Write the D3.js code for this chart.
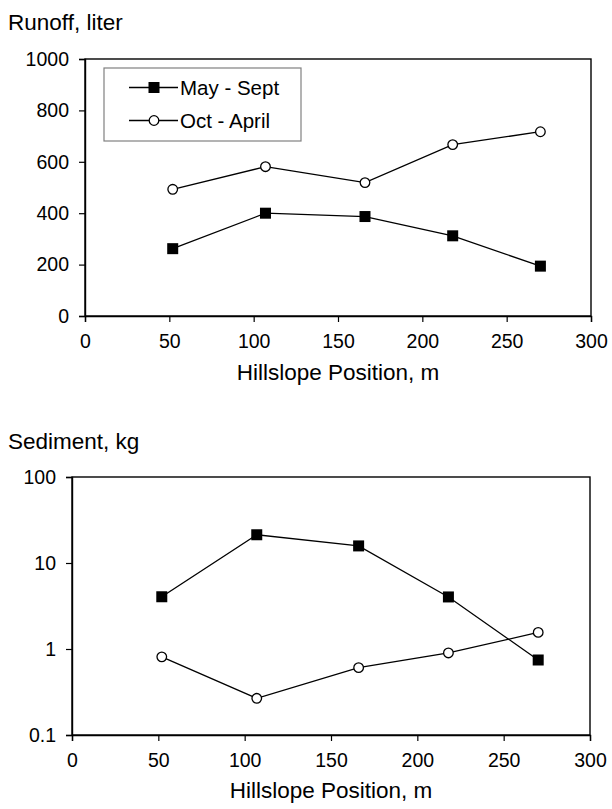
<!DOCTYPE html>
<html>
<head>
<meta charset="utf-8">
<script src="https://cdn.jsdelivr.net/npm/d3@7"></script>
<style>
  html, body { margin: 0; padding: 0; background: #fff; }
  svg { display: block; font-family: "Liberation Sans", Arial, sans-serif; }
</style>
</head>
<body>
<svg id="chart" width="612" height="809"></svg>
<script>
// ---- Data ----
const position = [52, 107, 166, 218, 270];
const runoffMaySept = [262, 400, 387, 312, 194];
const runoffOctApril = [493, 581, 519, 667, 717];
const sedimentMaySept = [4.05, 21.3, 15.8, 4.03, 0.745];
const sedimentOctApril = [0.81, 0.267, 0.607, 0.90, 1.56];
const seriesNames = ["May - Sept", "Oct - April"];
const xTicks = [0, 50, 100, 150, 200, 250, 300];
const runoffTicks = [0, 200, 400, 600, 800, 1000];
const sedimentTicks = [0.1, 1, 10, 100];
const sedimentTickLabels = ["0.1", "1", "10", "100"];

const svg = d3.select("#chart");
const tickFont = 19.5, titleFont = 22.5, legendFont = 20.5;

function panel(opts) {
  const { left, right, top, bottom, yScaleType, yDomain, yTicks, yTickFmt, s1, s2, title, titleY, xLabelY, legend } = opts;
  const x = d3.scaleLinear().domain([0, 300]).range([left, right]);
  const y = (yScaleType === "log" ? d3.scaleLog() : d3.scaleLinear()).domain(yDomain).range([bottom, top]);
  const g = svg.append("g");

  // frame
  g.append("rect").attr("x", left).attr("y", top).attr("width", right - left).attr("height", bottom - top)
    .attr("fill", "none").attr("stroke", "#000").attr("stroke-width", 1.4);

  const xAxis = g.append("g").attr("transform", `translate(0,${bottom})`)
    .call(d3.axisBottom(x).tickValues(xTicks).tickSize(6).tickPadding(12).tickFormat(d3.format("d")));
  const yAxis = g.append("g").attr("transform", `translate(${left},0)`)
    .call(d3.axisLeft(y).tickValues(yTicks).tickSize(6).tickPadding(10).tickFormat(yTickFmt));
  [xAxis, yAxis].forEach(a => {
    a.select(".domain").attr("stroke", "#000").attr("stroke-width", 1.4);
    a.selectAll(".tick line").attr("stroke", "#000").attr("stroke-width", 1.2);
    a.selectAll(".tick text").attr("fill", "#000").style("font-size", tickFont + "px")
      .style("font-family", '"Liberation Sans", Arial, sans-serif');
  });

  g.append("text").attr("x", 8).attr("y", titleY).text(title)
    .style("font-size", titleFont + "px").attr("fill", "#000");
  g.append("text").attr("x", (left + right) / 2).attr("y", xLabelY).attr("text-anchor", "middle")
    .text("Hillslope Position, m").style("font-size", titleFont + "px").attr("fill", "#000");

  const line = d3.line().x((d, i) => x(position[i])).y(d => y(d));
  g.append("path").datum(s1).attr("d", line).attr("fill", "none").attr("stroke", "#000").attr("stroke-width", 1.3);
  g.append("path").datum(s2).attr("d", line).attr("fill", "none").attr("stroke", "#000").attr("stroke-width", 1.3);

  const sq = 11;
  g.selectAll(".sq").data(s1).enter().append("rect")
    .attr("x", (d, i) => x(position[i]) - sq / 2).attr("y", d => y(d) - sq / 2)
    .attr("width", sq).attr("height", sq).attr("fill", "#000");
  g.selectAll(".ci").data(s2).enter().append("circle")
    .attr("cx", (d, i) => x(position[i])).attr("cy", d => y(d)).attr("r", 4.8)
    .attr("fill", "#fff").attr("stroke", "#000").attr("stroke-width", 1.3);

  if (legend) {
    const lg = g.append("g");
    lg.append("rect").attr("x", 104).attr("y", 68).attr("width", 197).attr("height", 73)
      .attr("fill", "#fff").attr("stroke", "#808080").attr("stroke-width", 1.2);
    const rows = [87.5, 120.5];
    seriesNames.forEach((name, i) => {
      const cy = rows[i];
      lg.append("line").attr("x1", 129).attr("x2", 178).attr("y1", cy).attr("y2", cy)
        .attr("stroke", "#000").attr("stroke-width", 1.3);
      if (i === 0) {
        lg.append("rect").attr("x", 154 - sq / 2).attr("y", cy - sq / 2).attr("width", sq).attr("height", sq).attr("fill", "#000");
      } else {
        lg.append("circle").attr("cx", 154).attr("cy", cy).attr("r", 4.8)
          .attr("fill", "#fff").attr("stroke", "#000").attr("stroke-width", 1.3);
      }
      lg.append("text").attr("x", 180).attr("y", cy).attr("dy", "0.35em").text(name)
        .style("font-size", legendFont + "px").attr("fill", "#000");
    });
  }
}

panel({
  left: 85, right: 591, top: 59, bottom: 316,
  yScaleType: "linear", yDomain: [0, 1000], yTicks: runoffTicks, yTickFmt: d3.format("d"),
  s1: runoffMaySept, s2: runoffOctApril,
  title: "Runoff, liter", titleY: 30, xLabelY: 380, legend: true
});

panel({
  left: 72, right: 590, top: 477, bottom: 735,
  yScaleType: "log", yDomain: [0.1, 100], yTicks: sedimentTicks,
  yTickFmt: (d) => sedimentTickLabels[sedimentTicks.indexOf(d)],
  s1: sedimentMaySept, s2: sedimentOctApril,
  title: "Sediment, kg", titleY: 449, xLabelY: 798, legend: false
});
</script>
</body>
</html>
